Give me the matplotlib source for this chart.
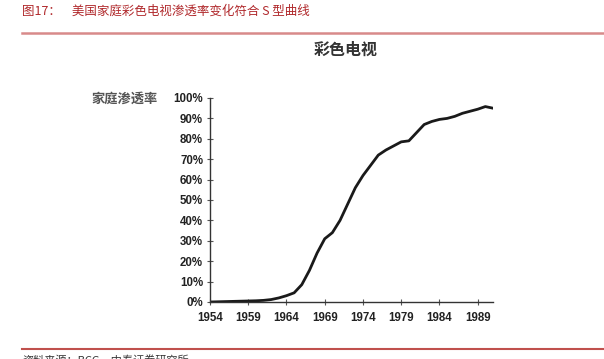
import matplotlib
matplotlib.use("Agg")
import matplotlib.pyplot as plt
from matplotlib.lines import Line2D

plt.rcParams['font.family'] = ['Noto Sans CJK SC', 'DejaVu Sans']

years = list(range(1954, 1992))
penetration = [0, 0.1, 0.2, 0.3, 0.4, 0.5, 0.6, 0.8, 1.2, 2.0,
               3.1, 4.5, 8.5, 15.5, 24, 31, 34, 40, 48, 56,
               62, 67, 72, 74.5, 76.5, 78.5, 79, 83, 87, 88.5,
               89.5, 90, 91, 92.5, 93.5, 94.5, 95.8, 95]
xticks = [1954, 1959, 1964, 1969, 1974, 1979, 1984, 1989]
yticks = [0, 10, 20, 30, 40, 50, 60, 70, 80, 90, 100]
ytick_labels = [f"{v}%" for v in yticks]

header = "图17：    美国家庭彩色电视渗透率变化符合 S 型曲线"
chart_title = "彩色电视"
ylabel = "家庭渗透率"
footer = "资料来源：BCG，中泰证券研究所"

W, H = 604, 359
fig = plt.figure(figsize=(W / 100, H / 100), dpi=100)
fig.patch.set_facecolor('white')

ax = fig.add_axes([210 / W, 1 - 302 / H, (493 - 210) / W, (302 - 98) / H])
ax.plot(years, penetration, color='#1a1a1a', lw=2.0, solid_joinstyle='round')
ax.set_xlim(1954, 1991)
ax.set_ylim(0, 100)
ax.set_xticks(xticks)
ax.set_xticklabels([str(x) for x in xticks], fontsize=8.3, fontweight='bold',
                   family=['Liberation Sans', 'DejaVu Sans'], color='#222222')
ax.set_yticks(yticks)
ax.set_yticklabels(ytick_labels, fontsize=8.3, fontweight='bold',
                   family=['Liberation Sans', 'DejaVu Sans'], color='#222222')
for s in ['top', 'right']:
    ax.spines[s].set_visible(False)
for s in ['left', 'bottom']:
    ax.spines[s].set_color('#333333')
    ax.spines[s].set_linewidth(1.0)
ax.tick_params(axis='both', direction='inout', length=4, width=0.8, color='#555555')
ax.tick_params(axis='x', pad=5)
ax.tick_params(axis='y', pad=3)

fig.text(346 / W, 1 - 50 / H, chart_title, ha='center', va='center',
         fontsize=11.5, fontweight='bold', color='#333333')
fig.text(125 / W, 1 - 99 / H, ylabel, ha='center', va='center',
         fontsize=9.5, fontweight='bold', color='#555555')

fig.text(22 / W, 1 - 11 / H, header, ha='left', va='center',
         fontsize=9, color='#b0282b')
fig.add_artist(Line2D([22 / W, 1.0], [1 - 33 / H, 1 - 33 / H],
                      color='#d88a8a', lw=1.8, transform=fig.transFigure))
fig.add_artist(Line2D([22 / W, 1.0], [1 - 349 / H, 1 - 349 / H],
                      color='#c0504d', lw=1.5, transform=fig.transFigure))
fig.text(22 / W, 1 - 355 / H, footer, ha='left', va='top',
         fontsize=8, color='#333333')

fig.savefig('out.png', dpi=100, facecolor='white')
